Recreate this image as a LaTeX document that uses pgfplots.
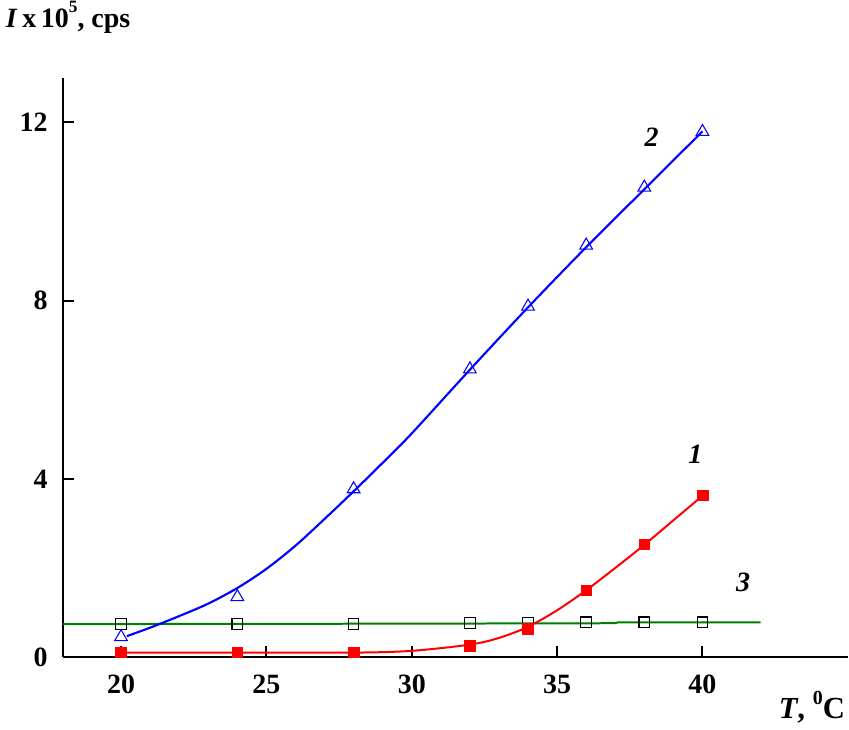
\documentclass[border=0pt]{standalone}
\usepackage{fontspec}
\setmainfont{Liberation Serif}
\usepackage{pgfplots}
\pgfplotsset{compat=1.18}
\definecolor{dgreen}{RGB}{0,128,0}
\begin{document}
\begin{tikzpicture}
\begin{axis}[
  scale only axis,
  width=589.5pt, height=435pt,
  xmin=18, xmax=45, ymin=0, ymax=13,
  axis lines*=left,
  axis line style={line width=1.8pt, -},
  xtick={20,25,30,35,40}, ytick={0,4,8,12},
  tick align=inside,
  major tick length=8pt,
  tick style={line width=1.5pt, black},
  /pgf/number format/assume math mode=true,
  ticklabel style={font=\fontsize{21}{24}\selectfont\bfseries},
  xticklabel style={yshift=-10pt},
  yticklabel style={xshift=-8pt},
  clip=false,
]
% curve 3 (green)
\addplot[dgreen, line width=1.5pt] coordinates {(18,0.74) (30,0.75) (37,0.76) (37.1,0.78) (42,0.78)};
% curve 2 (blue) fitted line
\addplot[blue, line width=1.6pt, smooth] coordinates {
 (20.2,0.47) (21,0.66) (22,0.92) (23,1.2) (24,1.55) (25,1.98) (26,2.5) (27,3.1) (28,3.72) (29,4.36) (30,5.02) (32,6.45) (34,7.85) (36,9.2) (38,10.5) (40,11.8)};
% curve 1 (red) fitted line
\addplot[red, line width=1.5pt, smooth] coordinates {
 (20,0.1) (24,0.1) (28,0.1) (30,0.14) (32,0.28) (33,0.43) (34,0.68) (35,1.05) (36,1.5) (37,2.0) (38,2.52) (39,3.07) (40,3.62)};
% markers
\addplot[only marks, mark=square, mark size=4pt, mark options={black, line width=0.8pt, fill=white}] coordinates {
 (20,0.74) (24,0.74) (28,0.74) (32,0.76) (34,0.76) (36,0.78) (38,0.78) (40,0.78)};
\addplot[only marks, mark=triangle, mark size=5.5pt, mark options={blue, line width=0.8pt}] coordinates {
 (20,0.45) (24,1.35) (28,3.77) (32,6.46) (34,7.87) (36,9.24) (38,10.54) (40,11.79)};
\addplot[only marks, mark=square*, mark size=4pt, mark options={red, fill=red}] coordinates {
 (20,0.11) (24,0.11) (28,0.11) (32,0.25) (34,0.63) (36,1.5) (38,2.53) (40,3.63)};
% series labels
\node[font=\fontsize{21}{24}\selectfont\bfseries\itshape] at (axis cs:38.25,11.66) {2};
\node[font=\fontsize{21}{24}\selectfont\bfseries\itshape] at (axis cs:39.76,4.55) {1};
\node[font=\fontsize{21}{24}\selectfont\bfseries\itshape] at (axis cs:41.4,1.68) {3};
% axis labels
\node[anchor=base west, font=\fontsize{21}{24}\selectfont\bfseries, inner sep=0pt] at ([xshift=-43pt, yshift=37.5pt]rel axis cs:0,1) {\textit{I}\,x\,10\raisebox{0.55em}{\fontsize{13}{14}\selectfont 5}, cps};
\node[anchor=base east, font=\fontsize{23}{26}\selectfont\bfseries, inner sep=0pt] at ([xshift=-2pt, yshift=-46pt]rel axis cs:1,0) {\textit{T}, \raisebox{0.45em}{\fontsize{15}{16}\selectfont 0}C};
\end{axis}
\useasboundingbox (-47.25pt,-54.75pt) rectangle (589.5pt,493.5pt);
\end{tikzpicture}
\end{document}
